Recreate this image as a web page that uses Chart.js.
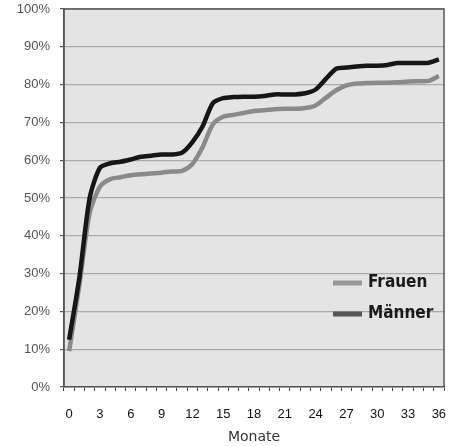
<!DOCTYPE html>
<html>
<head>
<meta charset="utf-8">
<script src="https://cdn.jsdelivr.net/npm/chart.js@4"></script>
<style>
    html, body { margin: 0; padding: 0; background: #ffffff; }
    #chart { display: block; }
</style>
</head>
<body>
<canvas id="chart" width="450" height="446"></canvas>
<script>
const months  = ['0','1','2','3','4','5','6','7','8','9','10','11','12','13','14','15','16','17','18',
                 '19','20','21','22','23','24','25','26','27','28','29','30','31','32','33','34','35','36'];
const frauen  = [9.5, 27, 46, 53, 55, 55.5, 56, 56.3, 56.5, 56.7, 57, 57.2, 59, 63.5, 69.5, 71.5, 72, 72.5, 73,
                 73.2, 73.5, 73.6, 73.6, 73.8, 74.5, 76.5, 78.5, 79.8, 80.3, 80.4, 80.5, 80.5, 80.6, 80.8, 80.9, 81.0, 82.3];
const maenner = [12.5, 29, 50, 58, 59.2, 59.6, 60.2, 60.9, 61.2, 61.5, 61.5, 62, 64.8, 69, 75.1, 76.4, 76.7, 76.8, 76.8,
                 77, 77.4, 77.4, 77.4, 77.7, 78.7, 81.5, 84.2, 84.5, 84.8, 85, 85, 85.2, 85.7, 85.7, 85.7, 85.8, 86.7];
const seriesNames = ['Frauen', 'Männer'];
const xTitle = 'Monate';

// grey plot background + dark frame
const plotFrame = {
    id: 'plotFrame',
    beforeDraw(chart) {
        const { ctx, chartArea: a } = chart;
        ctx.save();
        ctx.fillStyle = '#e4e4e4';
        ctx.fillRect(a.left, a.top, a.right - a.left, a.bottom - a.top);
        ctx.restore();
    },
    afterDatasetsDraw(chart) {
        const { ctx, chartArea: a } = chart;
        ctx.save();
        ctx.strokeStyle = '#555555';
        ctx.lineWidth = 1.5;
        ctx.beginPath();
        ctx.moveTo(a.left, a.bottom);
        ctx.lineTo(a.left, a.top);
        ctx.lineTo(a.right, a.top);
        ctx.lineTo(a.right, a.bottom);
        ctx.stroke();
        ctx.restore();
    }
};

// legend drawn inside plot, lower right
const innerLegend = {
    id: 'innerLegend',
    afterDraw(chart) {
        const { ctx, chartArea: a } = chart;
        const swatch = ['#999999', '#555555'];
        ctx.save();
        ctx.font = 'bold 17px "Liberation Sans Narrow", "DejaVu Sans Condensed", "Liberation Sans", sans-serif';
        ctx.textBaseline = 'middle';
        chart.data.datasets.forEach((ds, i) => {
            const y = 283 + i * 31;
            const x = a.right - 111;
            ctx.fillStyle = swatch[i];
            ctx.fillRect(x, y - 2.5, 29, 5);
            ctx.fillStyle = '#1a1a1a';
            ctx.fillText(ds.label, x + 35, y);
        });
        ctx.restore();
    }
};

new Chart(document.getElementById('chart'), {
    type: 'line',
    data: {
        labels: months,
        datasets: [
            {
                label: seriesNames[0],
                data: frauen,
                borderColor: '#8a8a8a',
                borderWidth: 4.5,
                pointRadius: 0,
                tension: 0.25,
                order: 1,
            },
            {
                label: seriesNames[1],
                data: maenner,
                borderColor: '#161616',
                borderWidth: 4.5,
                pointRadius: 0,
                tension: 0.25,
                order: 0,
            }
        ]
    },
    options: {
        responsive: false,
        animation: false,
        layout: { padding: { top: 9, right: 6, left: 0, bottom: 0 } },
        plugins: {
            legend: { display: false },
            tooltip: { enabled: false },
        },
        scales: {
            x: {
                offset: true,
                border: { color: '#555555', width: 1.5 },
                grid: { offset: true, drawOnChartArea: false, tickLength: 4, color: '#444444' },
                ticks: {
                    autoSkip: false,
                    maxRotation: 0,
                    padding: 16,
                    color: '#111111',
                    font: { family: '"Liberation Sans", Arial, sans-serif', size: 13 },
                    callback: (v, i) => (i % 3 === 0 ? months[i] : ''),
                },
                title: {
                    display: true,
                    text: xTitle,
                    color: '#333333',
                    font: { family: '"DejaVu Sans", sans-serif', size: 14 },
                    padding: { top: 0, bottom: 0 },
                },
                afterFit: (scale) => {
                    scale.height = 59;
                    scale.paddingLeft = 0;
                    scale.paddingRight = 0;
                },
            },
            y: {
                min: 0,
                max: 100,
                border: { color: '#555555', width: 1.5 },
                grid: { color: '#ababab', lineWidth: 1.2, tickLength: 4, tickColor: '#555555' },
                ticks: {
                    stepSize: 10,
                    padding: 10,
                    color: '#555555',
                    font: { family: '"Liberation Sans", Arial, sans-serif', size: 13 },
                    callback: (v) => v + '%',
                },
                afterFit: (scale) => {
                    scale.width = 64;
                    scale.paddingTop = 0;
                    scale.paddingBottom = 0;
                },
            }
        }
    },
    plugins: [plotFrame, innerLegend]
});
</script>
</body>
</html>
